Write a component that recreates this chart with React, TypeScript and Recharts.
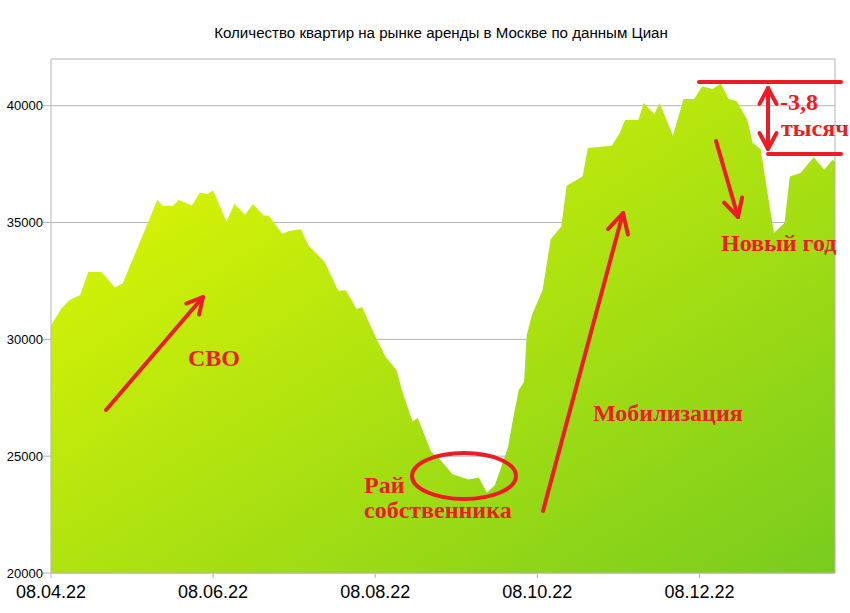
import React from 'react';
import { AreaChart, Area, XAxis, YAxis, CartesianGrid, ReferenceLine } from 'recharts';

// day offsets from 08.04.22
const days = [0, 4, 7, 11, 14, 19, 24, 27, 40, 42, 46, 48, 53, 56, 59, 61, 66, 69, 73, 76, 80, 82, 87, 90, 94, 97, 100, 103, 108, 111, 115, 117, 123, 126, 130, 132, 136, 138, 143, 146, 149, 151, 155, 157, 161, 164, 167, 169, 172, 174, 176, 178, 179, 181, 185, 188, 192, 194, 200, 202, 211, 214, 216, 221, 223, 227, 229, 234, 238, 242, 245, 249, 252, 255, 258, 262, 264, 267, 272, 276, 278, 282, 287, 291, 294, 295];
const listings = [30600, 31330, 31690, 31900, 32880, 32880, 32220, 32400, 35970, 35720, 35720, 35970, 35730, 36290, 36220, 36370, 35040, 35790, 35330, 35790, 35300, 35290, 34520, 34650, 34710, 34000, 33660, 33300, 32090, 32090, 31300, 31380, 29900, 29230, 28690, 27830, 26500, 26630, 25190, 24900, 24520, 24230, 24090, 24000, 24090, 23430, 23760, 24400, 25400, 26690, 27830, 28190, 30190, 31050, 32120, 34290, 34830, 36570, 36970, 38190, 38290, 38830, 39390, 39390, 40120, 39650, 40120, 38720, 40290, 40290, 40830, 40720, 40950, 40290, 40190, 39400, 38400, 38150, 34550, 34980, 36970, 37120, 37800, 37260, 37690, 37600];

const tickDays = [0, 61, 122, 183, 244];
const tickLabels = ['08.04.22', '08.06.22', '08.08.22', '08.10.22', '08.12.22'];
const yTicks = [20000, 25000, 30000, 35000, 40000];

const title = 'Количество квартир на рынке аренды в Москве по данным Циан';

const data = days.map((d, i) => ({ d, v: listings[i] }));

const RED = '#ed1c24';

function head(x1: number, y1: number, x2: number, y2: number, len = 18, ang = 28) {
  const a = Math.atan2(y1 - y2, x1 - x2);
  const r = (ang * Math.PI) / 180;
  const p1 = [x2 + len * Math.cos(a + r), y2 + len * Math.sin(a + r)];
  const p2 = [x2 + len * Math.cos(a - r), y2 + len * Math.sin(a - r)];
  return `${p1[0]},${p1[1]} ${x2},${y2} ${p2[0]},${p2[1]}`;
}

function Arrow({ x1, y1, x2, y2, len = 18, both = false }: any) {
  return (
    <g stroke={RED} strokeWidth={4} fill="none" strokeLinecap="round" strokeLinejoin="round">
      <line x1={x1} y1={y1} x2={x2} y2={y2} />
      <polyline points={head(x1, y1, x2, y2, len)} />
      {both && <polyline points={head(x2, y2, x1, y1, len)} />}
    </g>
  );
}

const serif = { fontFamily: '"Liberation Serif", "Times New Roman", serif', fontWeight: 700, fill: RED, fontSize: 24 } as any;

export default function App() {
  return (
    <div style={{ position: 'absolute', left: 0, top: 0, width: 850, height: 613, background: '#fff', overflow: 'hidden' }}>
      <AreaChart width={850} height={613} data={data} margin={{ top: 59, right: 15, bottom: 0, left: 0 }}>
        <defs>
          <linearGradient id="grad" x1="0" y1="0" x2="1" y2="1">
            <stop offset="0%" stopColor="#e8fa00" />
            <stop offset="100%" stopColor="#78cc1e" />
          </linearGradient>
        </defs>
        <CartesianGrid vertical={false} stroke="#b3b3b3" />
        <XAxis
          dataKey="d"
          type="number"
          domain={[0, 295]}
          ticks={tickDays}
          tickFormatter={(v: number) => tickLabels[tickDays.indexOf(v)] ?? ''}
          height={40}
          tickSize={5}
          tickMargin={7}
          stroke="#b3b3b3"
          tick={{ fill: '#000', fontSize: 18, fontFamily: '"Liberation Sans", Arial, sans-serif' }}
          allowDataOverflow
        />
        <YAxis
          type="number"
          domain={[20000, 42000]}
          ticks={yTicks}
          width={51}
          tickSize={8}
          tickMargin={0}
          stroke="#b3b3b3"
          tick={{ fill: '#000', fontSize: 13, fontFamily: '"Liberation Sans", Arial, sans-serif' }}
          allowDataOverflow
        />
        <ReferenceLine x={295} stroke="#b3b3b3" />
        <Area type="linear" dataKey="v" stroke="none" fill="url(#grad)" fillOpacity={1} isAnimationActive={false} baseValue={20000} />
      </AreaChart>
      <svg width={850} height={613} style={{ position: 'absolute', left: 0, top: 0, pointerEvents: 'none' }}>
        <text x={441} y={38} textAnchor="middle" fontFamily='"Liberation Sans", Arial, sans-serif' fontSize={15.1} fill="#000">{title}</text>
        <Arrow x1={106} y1={410} x2={203} y2={297} />
        <Arrow x1={543} y1={511} x2={623} y2={213} len={22} />
        <Arrow x1={716} y1={141} x2={738} y2={217} len={20} />
        <Arrow x1={768} y1={149} x2={768} y2={88} len={18} both />
        <line x1={699} y1={82} x2={841} y2={82} stroke={RED} strokeWidth={4} strokeLinecap="round" />
        <line x1={768} y1={154} x2={841} y2={154} stroke={RED} strokeWidth={4} strokeLinecap="round" />
        <ellipse cx={464} cy={476} rx={52} ry={23} fill="none" stroke={RED} strokeWidth={4} />
        <text x={188} y={366} {...serif}>СВО</text>
        <text x={593} y={421} {...serif}>Мобилизация</text>
        <text x={364} y={493} {...serif}>Рай</text>
        <text x={364} y={518} {...serif}>собственника</text>
        <text x={721} y={251} {...serif}>Новый год</text>
        <text x={780} y={110} {...serif}>-3,8</text>
        <text x={781} y={136} {...serif}>тысяч</text>
      </svg>
    </div>
  );
}
